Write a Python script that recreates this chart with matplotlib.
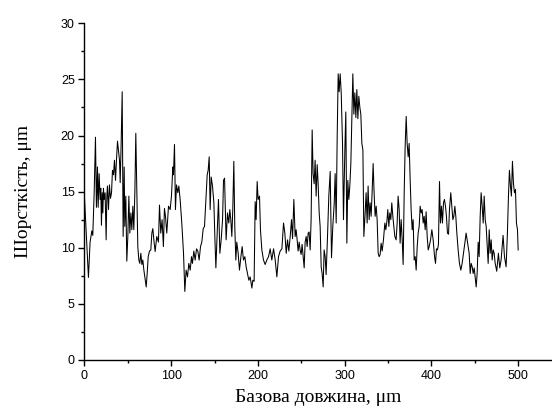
import matplotlib
matplotlib.use("Agg")
import matplotlib.pyplot as plt
from matplotlib.ticker import MultipleLocator

# -------------------------------------------------
# DATA
# -------------------------------------------------
base_length = [
    0, 4.6, 6.5, 8.5, 9.6, 11.2, 12.7, 13.8, 15, 15.8, 16.9, 18.1, 18.8, 19.6,
    20.4, 21.2, 21.9, 22.7, 23.8, 25, 25.8, 26.5, 27.7, 28.8, 30, 31.2, 32.3,
    33.5, 34.6, 35.8, 36.9, 38.1, 39.2, 40.4, 41.2, 42.3, 43.5, 44.6, 45.8,
    46.5, 47.7, 48.8, 50, 51.2, 52.3, 53.5, 54.6, 55.8, 56.9, 58.1, 59.2, 60.4,
    61.5, 62.7, 63.8, 65, 66.2, 67.3, 68.5, 69.6, 71.2, 72.3, 73.5, 75, 76.5,
    77.7, 78.8, 80.4, 81.5, 83.4, 85.3, 86.5, 88, 89.5, 91, 92.2, 93.4, 94.9,
    96.9, 98.8, 100.3, 101.9, 102.6, 103.8, 104.9, 106.1, 107.6, 108.8, 110.3,
    112.2, 114.2, 115.7, 117.2, 118.8, 120.3, 121.9, 123.4, 124.5, 126.1,
    127.6, 129.2, 130.7, 132.2, 133.8, 135.3, 136.9, 138.4, 140, 141.5, 142.6,
    143.8, 144.9, 146.1, 147.6, 149.2, 150.3, 151.5, 153, 154.5, 156.1, 157.6,
    159.2, 160.3, 161.5, 163.3, 164.9, 166.4, 167.6, 168.7, 169.9, 171, 172.2,
    173.3, 174.5, 175.6, 177.2, 178.7, 180.2, 181.8, 183.3, 184.9, 186.4, 188,
    189.5, 191, 193, 194.1, 195.6, 196.8, 197.9, 199.1, 200.2, 201.8, 202.9,
    204.5, 206.4, 208.3, 210.2, 212.2, 214.1, 216, 218, 219.9, 221.8, 223.7,
    225.6, 227.6, 229.5, 231, 232.6, 234.1, 235.6, 237.2, 238.7, 239.9, 241.4,
    242.9, 244, 245.2, 246.3, 247.5, 248.6, 249.8, 250.9, 252.1, 253.3, 254.4,
    255.6, 256.7, 257.9, 259, 260.2, 261.3, 262.5, 263.6, 264.8, 265.9, 267.1,
    268.3, 269.4, 270.6, 271.7, 272.9, 274, 275.2, 276.3, 277.5, 278.6, 280.2,
    281.7, 283.3, 284.8, 286.3, 287.9, 289, 290.2, 291.3, 292.5, 293.6, 294.8,
    296, 297.5, 298.6, 300.2, 301.3, 302.5, 303.6, 304.8, 305.9, 307.1, 308.2,
    309.4, 310.6, 311.7, 312.9, 314, 315.2, 316.3, 317.5, 318.6, 319.8, 321,
    322.1, 323.6, 324.7, 325.9, 327, 328.2, 329.3, 330.5, 331.6, 332.8, 333.9,
    335.1, 336.3, 337.4, 338.6, 339.7, 340.9, 342, 343.2, 344.7, 346.3, 347.4,
    348.6, 349.7, 350.9, 352, 353.2, 354.3, 355.5, 356.6, 357.8, 359.3, 360.5,
    361.6, 362.8, 363.9, 365.1, 366.3, 367.4, 368.6, 369.7, 370.9, 372, 373.2,
    374.3, 375.5, 376.6, 377.8, 378.9, 380.1, 381.3, 382.4, 383.6, 384.7,
    385.9, 387, 388.2, 389.3, 390.5, 391.6, 392.8, 393.9, 395.1, 396.3, 397.4,
    399, 400.5, 402, 403.6, 404.7, 405.8, 407, 408.1, 409.3, 410.4, 411.6,
    412.7, 413.9, 415, 416.2, 417.3, 418.5, 419.7, 420.8, 422.3, 423.5, 424.7,
    425.8, 427, 428.1, 429.3, 430.8, 432.3, 433.9, 435.4, 437, 438.5, 440,
    441.2, 442.3, 443.5, 444.7, 445.8, 447, 448.1, 449.3, 450.4, 451.6, 452.7,
    453.9, 455, 456.2, 457.3, 458.5, 459.7, 460.8, 462, 463.1, 464.3, 465.4,
    466.6, 467.7, 468.9, 470, 471.2, 472.3, 473.5, 475.3, 477.2, 478.8, 480.3,
    482.6, 484.2, 486.1, 487.6, 488.8, 489.9, 491.1, 492.2, 493.4, 494.6,
    495.7, 496.9, 498, 499.2, 500,
]

roughness = [
    14.5, 7.35, 10.5, 11.5, 11.1, 14.9, 19.85, 13.6, 17.2, 13.6, 16.6, 14.3,
    15.3, 12.0, 14.9, 13.1, 15.3, 14.3, 14.9, 10.7, 14.6, 15.5, 13.4, 15.6,
    14.4, 14.9, 16.9, 16.5, 17.8, 16.0, 17.8, 19.5, 18.7, 17.8, 15.8, 19.3,
    23.9, 11.0, 17.2, 11.9, 14.6, 8.8, 11.0, 14.6, 11.3, 13.1, 11.6, 13.7,
    11.6, 14.9, 20.2, 14.9, 10.1, 8.9, 8.6, 9.5, 8.5, 8.9, 8.0, 7.4, 6.5, 7.7,
    9.2, 9.7, 9.8, 11.3, 11.7, 10.4, 9.66, 11, 10.5, 13.8, 11.3, 12.5, 10.1,
    13.5, 12.8, 11.3, 13.7, 13.4, 14.6, 17.2, 16.5, 19.2, 13.4, 15.6, 14.9,
    15.5, 14.3, 12.2, 9.5, 6.1, 8.0, 7.4, 8.6, 8.0, 9.2, 8.6, 9.7, 8.9, 9.9,
    9.7, 8.9, 10.1, 10.5, 11.7, 11.9, 14.3, 16.5, 16.9, 18.1, 13.4, 16.3,
    15.5, 14, 11, 8.2, 11.3, 14.3, 9.5, 10.7, 12.5, 16.0, 16.2, 10.7, 13.1,
    12.2, 13.4, 12.5, 11, 13.4, 17.7, 11.9, 8.9, 10.5, 9.5, 8, 9.1, 10.1, 8.9,
    9.2, 8.3, 7.7, 7.1, 7.4, 6.4, 7.1, 7, 14.1, 12.5, 15.9, 14.3, 14.6, 11.6,
    9.8, 8.9, 8.5, 8.9, 9.2, 9.9, 8.9, 9.9, 8.9, 7.4, 9.2, 9.7, 9.9, 12.2,
    11.3, 9.5, 10.7, 9.7, 11, 12.5, 10.8, 14.3, 11, 11.6, 10.7, 9.7, 10.5, 9.8,
    9.4, 10.3, 9.2, 8.2, 10.5, 11, 10.1, 11.3, 11.4, 9.8, 12.5, 20.5, 16.6,
    15.7, 17.8, 14.6, 17.4, 15.7, 13.1, 11.9, 8.3, 7.7, 6.5, 9.8, 9.2, 7.6,
    11, 14.6, 16.8, 9.1, 11.9, 13.9, 16.6, 12.2, 19.6, 25.5, 23.9, 25.5, 23.8,
    19.3, 12.5, 18.7, 22.1, 10.4, 16, 14.3, 15.5, 17.5, 21.4, 25.5, 21.9,
    23.8, 21.6, 24.1, 21.5, 23.5, 22.5, 21.9, 19.3, 18.7, 11, 13.1, 14.9,
    12.2, 15.5, 12.5, 14, 12.8, 14.9, 17.5, 14.9, 12.8, 13.7, 12.5, 9.5, 9.2,
    9.4, 10.4, 9.7, 10.7, 12.2, 11.6, 12.3, 13.4, 11.9, 13.1, 12.5, 14, 12.8,
    11.9, 11, 10.7, 12.2, 14.6, 13.4, 10.4, 12.5, 10.7, 8.5, 14.9, 19, 21.7,
    19.3, 18.1, 19.3, 16, 13.4, 11.6, 12.5, 8.9, 9.2, 8, 10.1, 11.3, 11.9,
    13.7, 13.1, 13.4, 12.2, 12.8, 11.6, 13.2, 11, 9.8, 10.1, 10.7, 11.6, 10.7,
    9.2, 8.6, 9.9, 9.8, 10.3, 15.9, 12.2, 13.7, 12.2, 14, 14.3, 13.7, 12.8,
    11.3, 11.2, 13.4, 14.9, 13.7, 12.5, 12.8, 13.7, 12.8, 11.3, 9.8, 8.6, 8,
    8.6, 9.5, 10.4, 11.3, 10.7, 10.1, 9.5, 7.7, 8.6, 8.3, 7.7, 8.2, 7.4, 6.5,
    7.7, 10.5, 9.2, 12.8, 14.9, 13.7, 12.2, 14.6, 12.5, 11.9, 10.1, 8.6, 11.6,
    9.5, 10.7, 8.9, 9.8, 9.5, 8.6, 7.9, 9.5, 8.2, 8.9, 11.1, 9.2, 8.3, 11.3,
    14.6, 16.9, 15.5, 14.6, 17.7, 15.7, 14.9, 15.2, 12.2, 11.6, 9.8,
]

x_ticks = [0, 100, 200, 300, 400, 500]
y_ticks = [0, 5, 10, 15, 20, 25, 30]

# -------------------------------------------------
# PLOT
# -------------------------------------------------
fig = plt.figure(figsize=(5.52, 4.17), dpi=100)
ax = fig.add_axes([0.153, 0.137, 0.847, 0.807])

ax.plot(base_length, roughness, color="black", linewidth=0.75)

ax.set_xlim(0, 539)
ax.set_ylim(0, 30)
ax.set_xticks(x_ticks)
ax.set_yticks(y_ticks)
ax.xaxis.set_minor_locator(MultipleLocator(50))
ax.yaxis.set_minor_locator(MultipleLocator(2.5))

for side in ["top", "right"]:
    ax.spines[side].set_visible(False)
for side in ["left", "bottom"]:
    ax.spines[side].set_linewidth(1.0)

ax.tick_params(which="major", direction="out", length=4, width=1.0,
               labelsize=9, pad=3)
ax.tick_params(which="minor", direction="out", length=2.5, width=1.0)
for lab in ax.get_xticklabels() + ax.get_yticklabels():
    lab.set_fontfamily("Liberation Sans")

ax.set_xlabel("Базова довжина, μm", fontfamily="Liberation Serif",
              fontsize=14, labelpad=5)
ax.set_ylabel("Шорсткість, μm", fontfamily="Liberation Serif",
              fontsize=14, labelpad=21)

fig.savefig("out.png", dpi=100)
